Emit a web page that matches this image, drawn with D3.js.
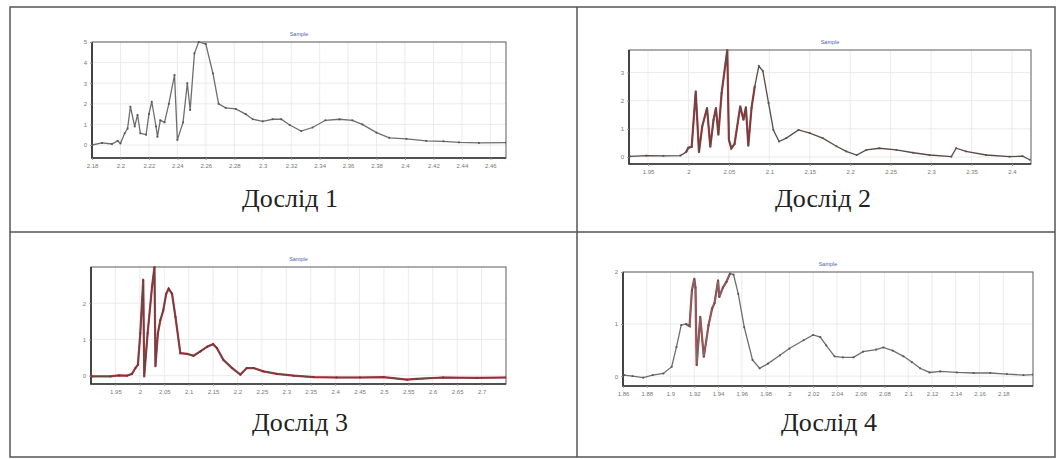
<!DOCTYPE html>
<html><head><meta charset="utf-8">
<script src="https://cdn.jsdelivr.net/npm/d3@7"></script>
<style>body{margin:0;background:#fff;}svg{display:block;}</style>
</head><body>
<svg id="c" width="1063" height="459"></svg>
<script>
// ---------- DATA ----------
const captions = ["Дослід 1", "Дослід 2", "Дослід 3", "Дослід 4"];
const chartTitle = "Sample";

const xTicks1 = [2.18,2.2,2.22,2.24,2.26,2.28,2.3,2.32,2.34,2.36,2.38,2.4,2.42,2.44,2.46];
const yTicks1 = [0,1,2,3,4,5];
const x1 = [2.180,2.187,2.194,2.198,2.200,2.203,2.205,2.207,2.210,2.212,2.214,2.218,2.220,2.222,2.225,2.226,2.228,2.231,2.234,2.238,2.240,2.244,2.247,2.249,2.252,2.255,2.260,2.265,2.269,2.274,2.281,2.288,2.293,2.300,2.307,2.313,2.319,2.327,2.335,2.344,2.354,2.363,2.370,2.380,2.389,2.401,2.415,2.427,2.438,2.452,2.471];
const y1 = [0.0,0.1,0.05,0.2,0.08,0.57,0.8,1.86,0.9,1.46,0.57,0.5,1.5,2.1,0.9,0.4,1.2,1.1,2.0,3.4,0.25,1.1,3.0,1.7,4.45,5.0,4.9,3.48,2.0,1.8,1.75,1.5,1.25,1.15,1.25,1.25,0.97,0.68,0.85,1.2,1.25,1.2,1.0,0.6,0.35,0.3,0.2,0.18,0.13,0.1,0.12];

const xTicks2 = [1.95,2,2.05,2.1,2.15,2.2,2.25,2.3,2.35,2.4];
const yTicks2 = [0,1,2,3];
const x2 = [1.928,1.948,1.969,1.990,1.997,2.000,2.004,2.009,2.013,2.017,2.023,2.027,2.031,2.034,2.037,2.041,2.044,2.046,2.048,2.050,2.053,2.057,2.064,2.068,2.071,2.074,2.078,2.082,2.087,2.092,2.099,2.105,2.112,2.121,2.136,2.150,2.166,2.183,2.195,2.208,2.220,2.236,2.257,2.278,2.298,2.325,2.331,2.343,2.368,2.397,2.413,2.422];
const y2 = [0.02,0.05,0.04,0.05,0.17,0.33,0.36,2.33,0.17,1.08,1.74,0.36,1.32,1.74,0.79,2.27,2.93,3.35,3.8,0.61,0.31,0.46,1.8,1.32,1.77,0.4,1.74,2.51,3.23,3.05,1.92,0.96,0.55,0.67,0.96,0.85,0.67,0.38,0.2,0.07,0.25,0.31,0.25,0.15,0.07,0.01,0.31,0.2,0.07,0.01,0.03,-0.1];

const xTicks3 = [1.95,2,2.05,2.1,2.15,2.2,2.25,2.3,2.35,2.4,2.45,2.5,2.55,2.6,2.65,2.7];
const yTicks3 = [0,1,2];
const x3 = [1.902,1.940,1.957,1.974,1.984,1.991,1.996,2.001,2.007,2.009,2.016,2.025,2.030,2.032,2.037,2.042,2.048,2.054,2.059,2.066,2.073,2.083,2.097,2.110,2.124,2.138,2.150,2.158,2.171,2.189,2.206,2.219,2.233,2.253,2.281,2.315,2.356,2.403,2.451,2.499,2.547,2.567,2.621,2.690,2.750];
const y3 = [-0.02,-0.02,0.01,0.0,0.05,0.21,0.3,1.17,2.65,-0.02,1.17,2.45,3.0,0.26,1.17,1.53,1.8,2.26,2.4,2.26,1.62,0.62,0.6,0.55,0.67,0.8,0.87,0.76,0.44,0.21,0.03,0.21,0.21,0.12,0.05,0.0,-0.04,-0.05,-0.05,-0.04,-0.11,-0.09,-0.05,-0.06,-0.05];

const xTicks4 = [1.86,1.88,1.9,1.92,1.94,1.96,1.98,2,2.02,2.04,2.06,2.08,2.1,2.12,2.14,2.16,2.18];
const yTicks4 = [0,1,2];
const x4 = [1.861,1.868,1.877,1.885,1.894,1.901,1.905,1.909,1.913,1.916,1.918,1.920,1.921,1.922,1.925,1.928,1.932,1.935,1.937,1.940,1.941,1.944,1.947,1.950,1.953,1.957,1.962,1.969,1.975,1.982,1.992,2.000,2.012,2.020,2.026,2.031,2.038,2.045,2.054,2.062,2.073,2.079,2.087,2.096,2.103,2.110,2.118,2.127,2.141,2.155,2.169,2.183,2.197,2.205];
const y4 = [0.02,0.0,-0.03,0.02,0.05,0.18,0.56,0.98,1.0,0.96,1.65,1.87,1.7,0.21,1.14,0.37,0.98,1.3,1.4,1.84,1.52,1.7,1.81,1.97,1.95,1.58,0.94,0.31,0.15,0.24,0.4,0.53,0.69,0.79,0.75,0.59,0.38,0.36,0.36,0.47,0.51,0.55,0.49,0.38,0.27,0.15,0.07,0.09,0.07,0.06,0.06,0.04,0.02,0.03];

// ---------- LAYOUT ----------
const svg = d3.select("#c");
const panels = [
  {xs:x1, ys:y1, xt:xTicks1, yt:yTicks1, box:[92,506,42,158], xd:[2.18,2.471], yd:[-0.63,5.0], red:null},
  {xs:x2, ys:y2, xt:xTicks2, yt:yTicks2, box:[629,1031,50,164], xd:[1.9265,2.4235], yd:[-0.25,3.8], red:[1.995,2.08]},
  {xs:x3, ys:y3, xt:xTicks3, yt:yTicks3, box:[91,506,267,384], xd:[1.9,2.75], yd:[-0.23,3.0], red:[1.9,2.75]},
  {xs:x4, ys:y4, xt:xTicks4, yt:yTicks4, box:[623,1033,272,386], xd:[1.86,2.205], yd:[-0.19,2.0], red:[1.915,1.95]}
];
const capPos = [[290,207],[823,207],[300,431],[829,431]];

// table frame
svg.append("rect").attr("x",10).attr("y",7).attr("width",1045).attr("height",450)
  .attr("fill","none").attr("stroke","#555").attr("stroke-width",1.5);
svg.append("line").attr("x1",577).attr("x2",577).attr("y1",7).attr("y2",457).attr("stroke","#555").attr("stroke-width",1.5);
svg.append("line").attr("x1",10).attr("x2",1055).attr("y1",232).attr("y2",232).attr("stroke","#555").attr("stroke-width",1.5);

panels.forEach((p,i)=>{
  const [L,R,T,B] = p.box;
  const x = d3.scaleLinear().domain(p.xd).range([L,R]);
  const y = d3.scaleLinear().domain(p.yd).range([B,T]);
  const g = svg.append("g");
  // grid
  g.selectAll(".vg").data(p.xt).join("line").attr("x1",d=>x(d)).attr("x2",d=>x(d))
    .attr("y1",T).attr("y2",B).attr("stroke","#e6e6e6").attr("stroke-width",0.8);
  g.selectAll(".hg").data(p.yt).join("line").attr("y1",d=>y(d)).attr("y2",d=>y(d))
    .attr("x1",L).attr("x2",R).attr("stroke","#e6e6e6").attr("stroke-width",0.8);
  // frame
  g.append("rect").attr("x",L).attr("y",T).attr("width",R-L).attr("height",B-T)
    .attr("fill","none").attr("stroke","#6a6a6a").attr("stroke-width",1.1);
  g.append("path").attr("d",`M${L},${T}V${B}H${R}`).attr("fill","none").attr("stroke","#333").attr("stroke-width",1.7);
  // axes
  const xa = d3.axisBottom(x).tickValues(p.xt).tickSize(2).tickFormat(d3.format("~g"));
  const ag = g.append("g").attr("transform",`translate(0,${B})`).call(xa);
  ag.select(".domain").remove();
  ag.selectAll("line").attr("stroke","#999");
  ag.selectAll("text").attr("font-size",6).attr("fill","#777").attr("font-family","Arial, sans-serif").attr("dy","0.9em");
  const ya = d3.axisLeft(y).tickValues(p.yt).tickSize(2).tickFormat(d3.format("d"));
  const yg = g.append("g").attr("transform",`translate(${L},0)`).call(ya);
  yg.select(".domain").remove();
  yg.selectAll("line").attr("stroke","#999");
  yg.selectAll("text").attr("font-size",6).attr("fill","#777").attr("font-family","Arial, sans-serif");
  // title
  g.append("text").attr("x",(L+R)/2).attr("y",T-6).attr("text-anchor","middle")
    .attr("font-size",5.5).attr("fill","#4a62b5").attr("font-family","Arial, sans-serif").text(chartTitle);
  // clip
  const cid = "clip"+i;
  svg.append("clipPath").attr("id",cid).append("rect").attr("x",L).attr("y",T-1).attr("width",R-L).attr("height",B-T+1);
  const data = p.xs.map((v,k)=>[v,p.ys[k]]);
  const line = d3.line().x(d=>x(d[0])).y(d=>y(d[1]));
  const lg = g.append("g").attr("clip-path",`url(#${cid})`);
  if(p.red){
    const rd = data.filter(d=>d[0]>=p.red[0]-0.003 && d[0]<=p.red[1]+0.003);
    lg.append("path").datum(rd).attr("d",line).attr("fill","none").attr("stroke","#c8323a").attr("stroke-width",2.2);
  }
  lg.append("path").datum(data).attr("d",line).attr("fill","none")
    .attr("stroke", i===0||i===3 ? "#6e6e6e" : "#5a4a4a").attr("stroke-width",1.3);
  // small markers
  lg.selectAll(".m").data(data).join("rect").attr("x",d=>x(d[0])-0.9).attr("y",d=>y(d[1])-0.9)
    .attr("width",1.8).attr("height",1.8).attr("fill", i===2 ? "#8a2a2a" : "#555");
  // caption
  svg.append("text").attr("x",capPos[i][0]).attr("y",capPos[i][1]).attr("text-anchor","middle")
    .attr("font-family","'Liberation Serif', 'DejaVu Serif', serif").attr("font-size",26).attr("fill","#222")
    .text(captions[i]);
});
</script>
</body></html>
